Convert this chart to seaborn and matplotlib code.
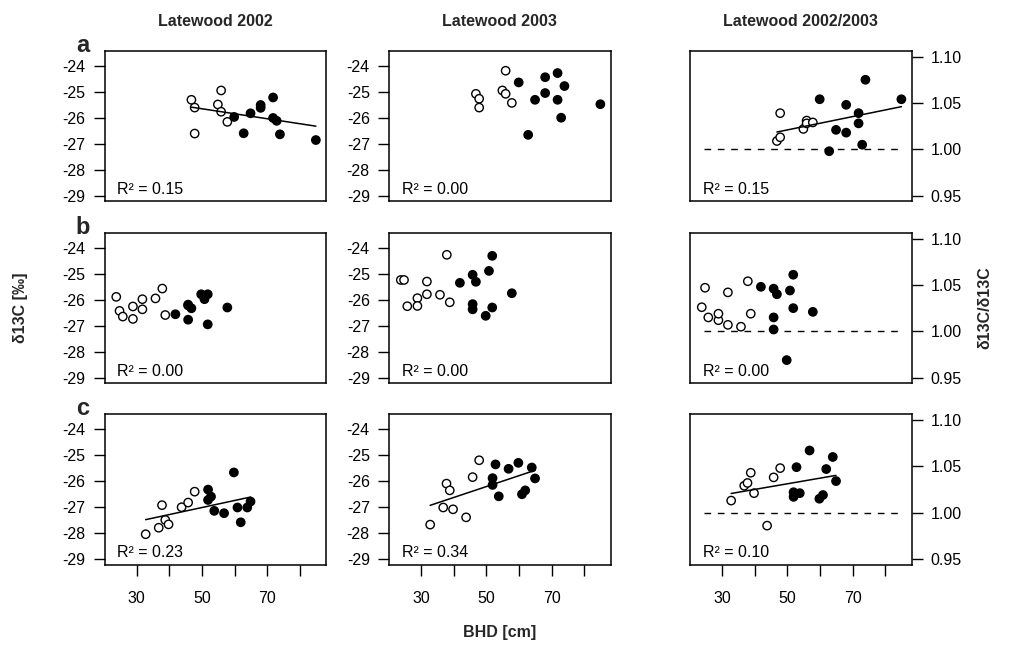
import numpy as np
import pandas as pd
import matplotlib
matplotlib.use("Agg")
import matplotlib.pyplot as plt
import seaborn as sns

sns.set_theme(style="white")
plt.rcParams['font.family'] = ['Liberation Sans', 'DejaVu Sans']

# ---- data: stem diameter (BHD, cm) and latewood d13C per tree ----
# row a
dbh_a_open = [46.8, 47.8, 47.8, 54.9, 55.9, 55.9, 57.8]
dbh_a_filled = [59.9, 62.8, 64.9, 68.0, 68.0, 71.8, 71.8, 72.9, 73.9, 84.9]
lw02_a_open = [-25.31, -25.61, -26.61, -25.49, -24.95, -25.77, -26.16]
lw02_a_filled = [-25.97, -26.60, -25.83, -25.51, -25.62, -25.22, -26.01, -26.12, -26.64, -26.86]
lw03_a_open = [-25.08, -25.27, -25.61, -24.95, -24.19, -25.08, -25.43]
lw03_a_filled = [-24.64, -26.66, -25.31, -25.05, -24.44, -24.28, -25.31, -26.00, -24.78, -25.48]
ratio_a_open = [1.009, 1.013, 1.039, 1.022, 1.031, 1.028, 1.029]
ratio_a_filled = [1.054, 0.998, 1.021, 1.018, 1.048, 1.039, 1.028, 1.005, 1.075, 1.054]

# row b
dbh_b_open = [23.8, 24.8, 25.8, 28.9, 28.9, 31.8, 31.8, 35.8, 37.9, 38.8]
dbh_b_filled = [41.9, 45.8, 45.8, 45.8, 46.8, 49.8, 50.8, 51.8, 51.8, 57.8]
lw02_b_open = [-25.89, -26.43, -26.65, -26.26, -26.74, -25.98, -26.37, -25.95, -25.57, -26.59]
lw02_b_filled = [-26.56, -26.19, -26.22, -26.77, -26.33, -25.79, -25.98, -25.79, -26.95, -26.30]
lw03_b_open = [-25.24, -25.24, -26.25, -25.94, -26.24, -25.79, -25.30, -25.81, -24.27, -26.10]
lw03_b_filled = [-25.35, -25.04, -26.17, -26.37, -25.31, -26.62, -24.89, -24.31, -26.30, -25.75]
ratio_b_open = [1.026, 1.047, 1.015, 1.012, 1.019, 1.007, 1.042, 1.005, 1.054, 1.019]
ratio_b_filled = [1.048, 1.046, 1.002, 1.015, 1.040, 0.969, 1.044, 1.061, 1.025, 1.021]

# row c
dbh_c_open = [32.8, 36.8, 37.8, 38.8, 39.8, 43.8, 45.8, 47.8]
dbh_c_filled = [51.9, 51.9, 52.8, 53.8, 56.8, 59.8, 60.9, 61.9, 63.9, 64.9]
lw02_c_open = [-28.05, -27.80, -26.93, -27.50, -27.67, -27.01, -26.83, -26.41]
lw02_c_filled = [-26.33, -26.73, -26.60, -27.15, -27.24, -25.67, -27.02, -27.59, -27.02, -26.79]
lw03_c_open = [-27.68, -27.02, -26.10, -26.36, -27.09, -27.40, -25.85, -25.20]
lw03_c_filled = [-25.89, -26.15, -25.36, -26.59, -25.53, -25.30, -26.51, -26.36, -25.48, -25.90]
ratio_c_open = [1.013, 1.029, 1.032, 1.043, 1.021, 0.986, 1.038, 1.048]
ratio_c_filled = [1.017, 1.022, 1.049, 1.021, 1.067, 1.015, 1.019, 1.047, 1.060, 1.034]

col_titles = ["Latewood 2002", "Latewood 2003", "Latewood 2002/2003"]
row_letters = ["a", "b", "c"]
r2_labels = [["0.15", "0.00", "0.15"],
             ["0.00", "0.00", "0.00"],
             ["0.23", "0.34", "0.10"]]
# panels with a fitted regression line
fit_lines = [[True, False, True],
             [False, False, False],
             [True, True, True]]

d13c_ticks = [-29, -28, -27, -26, -25, -24]
ratio_ticks = [0.95, 1.00, 1.05, 1.10]
x_ticks = [30, 40, 50, 60, 70, 80]
x_ticklabels = ["30", "", "50", "", "70", ""]
ratio_ref = 1.0
ratio_ref_span = [24.5, 85.5]

rows = [
    (dbh_a_open, dbh_a_filled, [(lw02_a_open, lw02_a_filled), (lw03_a_open, lw03_a_filled), (ratio_a_open, ratio_a_filled)]),
    (dbh_b_open, dbh_b_filled, [(lw02_b_open, lw02_b_filled), (lw03_b_open, lw03_b_filled), (ratio_b_open, ratio_b_filled)]),
    (dbh_c_open, dbh_c_filled, [(lw02_c_open, lw02_c_filled), (lw03_c_open, lw03_c_filled), (ratio_c_open, ratio_c_filled)]),
]

# ---- layout (pixel geometry of the panel grid) ----
W, H = 1009, 646
fig = plt.figure(figsize=(W / 100, H / 100), dpi=100)
col_left = [104.5, 389.0, 690.0]
row_top = [51.0, 233.0, 414.3]
pw, ph = 221.5, 150.3

XLIM = (20.2, 88.0)
YLIM = (-29.22, -23.43)
RLIM = (0.944, 1.106)
FS = 11.5

for i, (dbh_o, dbh_f, series) in enumerate(rows):
    for j, (y_o, y_f) in enumerate(series):
        ax = fig.add_axes([col_left[j] / W, 1 - (row_top[i] + ph) / H, pw / W, ph / H])
        df = pd.DataFrame({
            "dbh": list(dbh_o) + list(dbh_f),
            "val": list(y_o) + list(y_f),
            "group": ["open"] * len(dbh_o) + ["filled"] * len(dbh_f),
        })
        sns.scatterplot(data=df, x="dbh", y="val", hue="group",
                        palette={"open": "white", "filled": "black"},
                        edgecolor="black", linewidth=1.0, s=36,
                        legend=False, ax=ax, zorder=3)
        if fit_lines[i][j]:
            sns.regplot(data=df, x="dbh", y="val", scatter=False, ci=None,
                        truncate=True, color="black",
                        line_kws={"lw": 1.1, "zorder": 4}, ax=ax)
        ax.set_xlim(*XLIM)
        if j < 2:
            ax.set_ylim(*YLIM)
            ax.set_yticks(d13c_ticks)
            ax.set_yticklabels([str(t) for t in d13c_ticks])
            ax.yaxis.set_ticks_position("left")
        else:
            ax.set_ylim(*RLIM)
            ax.hlines(ratio_ref, ratio_ref_span[0], ratio_ref_span[1], colors="black",
                      linestyles=(0, (4.8, 4.8)), lw=1.0, zorder=2)
            ax.set_yticks(ratio_ticks)
            ax.set_yticklabels([f"{t:.2f}" for t in ratio_ticks])
            ax.yaxis.set_ticks_position("right")
            ax.yaxis.set_label_position("right")
        if i == 2:
            ax.set_xticks(x_ticks)
            ax.set_xticklabels(x_ticklabels)
            ax.xaxis.set_ticks_position("bottom")
        else:
            ax.set_xticks([])
        ax.tick_params(axis="both", which="both", direction="out", length=7.8,
                       width=1.0, color="black", labelsize=FS, pad=6,
                       labelcolor="black")
        ax.tick_params(axis="x", pad=11)
        ax.set_xlabel("")
        ax.set_ylabel("")
        for sp in ax.spines.values():
            sp.set_visible(True)
            sp.set_color("black")
            sp.set_linewidth(1.1)
        ax.text(0.057, 0.03, f"R\u00b2 = {r2_labels[i][j]}", transform=ax.transAxes,
                ha="left", va="bottom", fontsize=FS, color="black")
        ax.set_facecolor("white")

    fig.text(83 / W, 1 - (row_top[i] - 6) / H, row_letters[i], ha="center",
             va="center", fontsize=17, fontweight="bold")

for j, t in enumerate(col_titles):
    fig.text((col_left[j] + pw / 2) / W, 1 - 22 / H, t, ha="center", va="center",
             fontsize=FS, fontweight="bold")

fig.text(21 / W, 1 - 308 / H, "\u03b413C [\u2030]", rotation=90, ha="center",
         va="center", fontsize=FS, fontweight="bold")
fig.text(985 / W, 1 - 308 / H, "\u03b413C/\u03b413C", rotation=90, ha="center",
         va="center", fontsize=FS, fontweight="bold")
fig.text((col_left[1] + pw / 2) / W, 1 - 632 / H, "BHD [cm]", ha="center",
         va="center", fontsize=FS, fontweight="bold")

fig.savefig("out.png", dpi=100, facecolor="white")
